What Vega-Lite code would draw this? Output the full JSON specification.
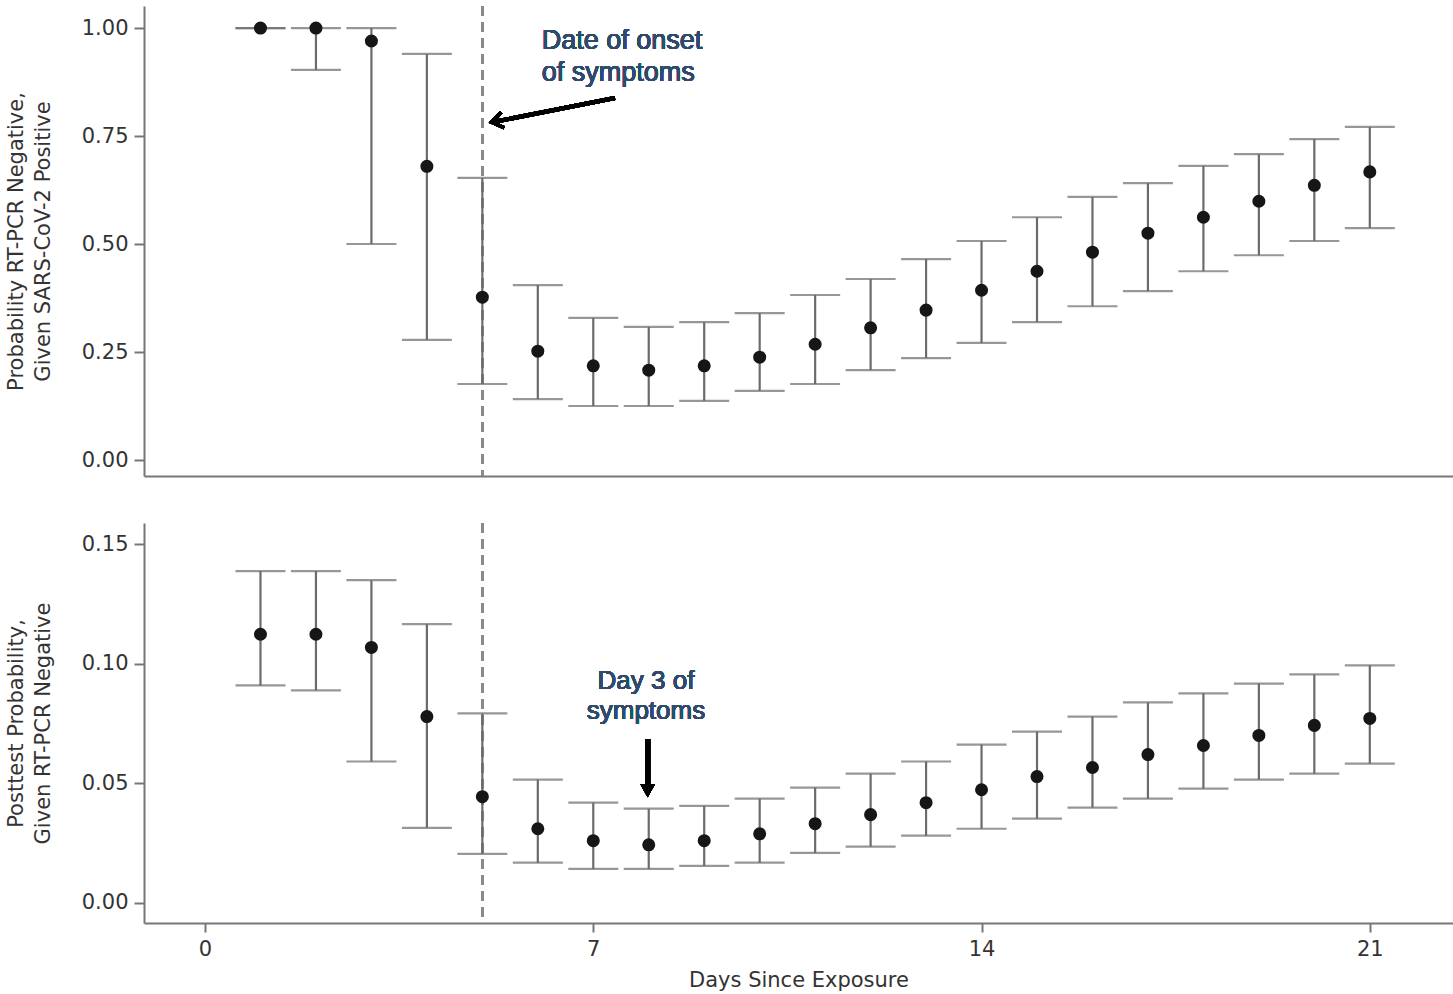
{
  "$schema": "https://vega.github.io/schema/vega-lite/v6.json",
  "padding": {"left": 5, "top": 5, "right": 0, "bottom": 5},
  "background": "white",
  "spacing": 45,
  "config": {
    "view": {"stroke": null},
    "axis": {
      "grid": false,
      "domainColor": "#777777",
      "domainWidth": 2,
      "tickColor": "#777777",
      "tickWidth": 2,
      "labelFont": "DejaVu Sans",
      "labelFontSize": 21,
      "labelColor": "#333333",
      "titleFont": "DejaVu Sans",
      "titleFontSize": 21,
      "titleFontWeight": "normal",
      "titleColor": "#333333"
    }
  },
  "datasets": {
    "top": [
      {"day": 1, "est": 1.0, "lo": 1.0, "hi": 1.0},
      {"day": 2, "est": 1.0, "lo": 0.903, "hi": 1.0},
      {"day": 3, "est": 0.97, "lo": 0.5, "hi": 1.0},
      {"day": 4, "est": 0.68, "lo": 0.278, "hi": 0.94},
      {"day": 5, "est": 0.377, "lo": 0.176, "hi": 0.653},
      {"day": 6, "est": 0.252, "lo": 0.141, "hi": 0.405},
      {"day": 7, "est": 0.218, "lo": 0.125, "hi": 0.329},
      {"day": 8, "est": 0.208, "lo": 0.125, "hi": 0.308},
      {"day": 9, "est": 0.218, "lo": 0.137, "hi": 0.319},
      {"day": 10, "est": 0.238, "lo": 0.16, "hi": 0.34},
      {"day": 11, "est": 0.268, "lo": 0.176, "hi": 0.382},
      {"day": 12, "est": 0.306, "lo": 0.208, "hi": 0.419},
      {"day": 13, "est": 0.347, "lo": 0.236, "hi": 0.465},
      {"day": 14, "est": 0.393, "lo": 0.271, "hi": 0.507},
      {"day": 15, "est": 0.437, "lo": 0.319, "hi": 0.562},
      {"day": 16, "est": 0.481, "lo": 0.356, "hi": 0.609},
      {"day": 17, "est": 0.525, "lo": 0.391, "hi": 0.641},
      {"day": 18, "est": 0.562, "lo": 0.437, "hi": 0.681},
      {"day": 19, "est": 0.599, "lo": 0.474, "hi": 0.708},
      {"day": 20, "est": 0.636, "lo": 0.507, "hi": 0.743},
      {"day": 21, "est": 0.667, "lo": 0.537, "hi": 0.771}
    ],
    "bottom": [
      {"day": 1, "est": 0.1123, "lo": 0.0909, "hi": 0.1387},
      {"day": 2, "est": 0.1123, "lo": 0.0888, "hi": 0.1387},
      {"day": 3, "est": 0.1068, "lo": 0.0591, "hi": 0.1349},
      {"day": 4, "est": 0.0779, "lo": 0.0314, "hi": 0.1165},
      {"day": 5, "est": 0.0444, "lo": 0.0205, "hi": 0.0792},
      {"day": 6, "est": 0.031, "lo": 0.0168, "hi": 0.0515},
      {"day": 7, "est": 0.026, "lo": 0.0142, "hi": 0.0419},
      {"day": 8, "est": 0.0243, "lo": 0.0142, "hi": 0.0394},
      {"day": 9, "est": 0.026, "lo": 0.0155, "hi": 0.0406},
      {"day": 10, "est": 0.0289, "lo": 0.0168, "hi": 0.0436},
      {"day": 11, "est": 0.0331, "lo": 0.0209, "hi": 0.0482},
      {"day": 12, "est": 0.0369, "lo": 0.0235, "hi": 0.054},
      {"day": 13, "est": 0.0419, "lo": 0.0281, "hi": 0.0591},
      {"day": 14, "est": 0.0473, "lo": 0.031, "hi": 0.0662},
      {"day": 15, "est": 0.0528, "lo": 0.0352, "hi": 0.0716},
      {"day": 16, "est": 0.0566, "lo": 0.0398, "hi": 0.0779},
      {"day": 17, "est": 0.062, "lo": 0.0436, "hi": 0.0838},
      {"day": 18, "est": 0.0658, "lo": 0.0478, "hi": 0.0876},
      {"day": 19, "est": 0.07, "lo": 0.0515, "hi": 0.0917},
      {"day": 20, "est": 0.0742, "lo": 0.054, "hi": 0.0955},
      {"day": 21, "est": 0.0771, "lo": 0.0582, "hi": 0.0993}
    ]
  },
  "vconcat": [
    {
      "width": 1309,
      "height": 470,
      "data": {"name": "top"},
      "layer": [
        {
          "mark": {"type": "rule", "color": "#8a8a8a", "strokeWidth": 1.6, "strokeDash": [10, 6]},
          "encoding": {
            "x": {"datum": 5, "type": "quantitative", "scale": {"domain": [-1.1, 22.5], "nice": false, "zero": false}, "axis": {"labels": false, "ticks": false, "title": null}}
          }
        },
        {
          "mark": {"type": "rule", "color": "#6b6b6b", "strokeWidth": 2.2},
          "encoding": {
            "x": {"field": "day", "type": "quantitative", "title": null},
            "y": {"field": "lo", "type": "quantitative", "scale": {"domain": [-0.037, 1.051], "nice": false, "zero": false},
                  "title": ["Probability RT-PCR Negative,", "Given SARS-CoV-2 Positive"],
                  "axis": {"values": [0, 0.25, 0.5, 0.75, 1], "format": ".2f", "tickSize": 10, "labelPadding": 6, "titlePadding": 28, "titleLineHeight": 27}},
            "y2": {"field": "hi"}
          }
        },
        {
          "mark": {"type": "tick", "orient": "horizontal", "color": "#6b6b6b", "size": 50, "thickness": 2.2},
          "encoding": {
            "x": {"field": "day", "type": "quantitative", "title": null},
            "y": {"field": "lo", "type": "quantitative", "title": ["Probability RT-PCR Negative,", "Given SARS-CoV-2 Positive"]}
          }
        },
        {
          "mark": {"type": "tick", "orient": "horizontal", "color": "#6b6b6b", "size": 50, "thickness": 2.2},
          "encoding": {
            "x": {"field": "day", "type": "quantitative", "title": null},
            "y": {"field": "hi", "type": "quantitative", "title": ["Probability RT-PCR Negative,", "Given SARS-CoV-2 Positive"]}
          }
        },
        {
          "mark": {"type": "point", "filled": true, "color": "#161616", "opacity": 1, "size": 170},
          "encoding": {
            "x": {"field": "day", "type": "quantitative", "title": null},
            "y": {"field": "est", "type": "quantitative", "title": ["Probability RT-PCR Negative,", "Given SARS-CoV-2 Positive"]}
          }
        },
        {
          "mark": {"type": "text", "align": "left", "baseline": "middle", "font": "Liberation Sans", "fontSize": 27, "color": "#2f4a6d", "lineHeight": 32, "text": ["Date of onset", "of symptoms"]},
          "encoding": {
            "x": {"datum": 6.07, "type": "quantitative"},
            "y": {"datum": 0.97, "type": "quantitative"}
          }
        },
        {
          "mark": {"type": "rule", "color": "black", "strokeWidth": 4},
          "encoding": {
            "x": {"datum": 7.39, "type": "quantitative"},
            "y": {"datum": 0.838, "type": "quantitative"},
            "x2": {"datum": 5.22},
            "y2": {"datum": 0.783}
          }
        },
        {
          "mark": {"type": "point", "shape": "M-0.7,1L0,0L0.7,1", "filled": false, "stroke": "black", "strokeWidth": 3.5, "opacity": 1, "size": 500, "angle": 259},
          "encoding": {
            "x": {"datum": 5.17, "type": "quantitative"},
            "y": {"datum": 0.782, "type": "quantitative"}
          }
        }
      ]
    },
    {
      "width": 1309,
      "height": 400,
      "data": {"name": "bottom"},
      "layer": [
        {
          "mark": {"type": "rule", "color": "#8a8a8a", "strokeWidth": 1.6, "strokeDash": [10, 6]},
          "encoding": {
            "x": {"datum": 5, "type": "quantitative", "scale": {"domain": [-1.1, 22.5], "nice": false, "zero": false},
                  "title": "Days Since Exposure",
                  "axis": {"values": [0, 7, 14, 21], "tickSize": 9, "labelPadding": 6, "titlePadding": 10, "titleFontSize": 21}}
          }
        },
        {
          "mark": {"type": "rule", "color": "#6b6b6b", "strokeWidth": 2.2},
          "encoding": {
            "x": {"field": "day", "type": "quantitative", "title": "Days Since Exposure"},
            "y": {"field": "lo", "type": "quantitative", "scale": {"domain": [-0.0084, 0.1588], "nice": false, "zero": false},
                  "title": ["Posttest Probability,", "Given RT-PCR Negative"],
                  "axis": {"values": [0, 0.05, 0.1, 0.15], "format": ".2f", "tickSize": 10, "labelPadding": 6, "titlePadding": 28, "titleLineHeight": 27}},
            "y2": {"field": "hi"}
          }
        },
        {
          "mark": {"type": "tick", "orient": "horizontal", "color": "#6b6b6b", "size": 50, "thickness": 2.2},
          "encoding": {
            "x": {"field": "day", "type": "quantitative", "title": "Days Since Exposure"},
            "y": {"field": "lo", "type": "quantitative", "title": ["Posttest Probability,", "Given RT-PCR Negative"]}
          }
        },
        {
          "mark": {"type": "tick", "orient": "horizontal", "color": "#6b6b6b", "size": 50, "thickness": 2.2},
          "encoding": {
            "x": {"field": "day", "type": "quantitative", "title": "Days Since Exposure"},
            "y": {"field": "hi", "type": "quantitative", "title": ["Posttest Probability,", "Given RT-PCR Negative"]}
          }
        },
        {
          "mark": {"type": "point", "filled": true, "color": "#161616", "opacity": 1, "size": 170},
          "encoding": {
            "x": {"field": "day", "type": "quantitative", "title": "Days Since Exposure"},
            "y": {"field": "est", "type": "quantitative", "title": ["Posttest Probability,", "Given RT-PCR Negative"]}
          }
        },
        {
          "mark": {"type": "text", "align": "center", "baseline": "middle", "font": "Liberation Sans", "fontSize": 26, "color": "#2f4a6d", "lineHeight": 30, "text": ["Day 3 of", "symptoms"]},
          "encoding": {
            "x": {"datum": 7.95, "type": "quantitative"},
            "y": {"datum": 0.0926, "type": "quantitative"}
          }
        },
        {
          "mark": {"type": "rule", "color": "black", "strokeWidth": 5},
          "encoding": {
            "x": {"datum": 7.98, "type": "quantitative"},
            "y": {"datum": 0.0685, "type": "quantitative"},
            "y2": {"datum": 0.048}
          }
        },
        {
          "mark": {"type": "point", "shape": "M-0.55,1L0,0L0.55,1Z", "filled": true, "color": "black", "opacity": 1, "size": 700, "angle": 180},
          "encoding": {
            "x": {"datum": 7.98, "type": "quantitative"},
            "y": {"datum": 0.0442, "type": "quantitative"}
          }
        }
      ]
    }
  ]
}
